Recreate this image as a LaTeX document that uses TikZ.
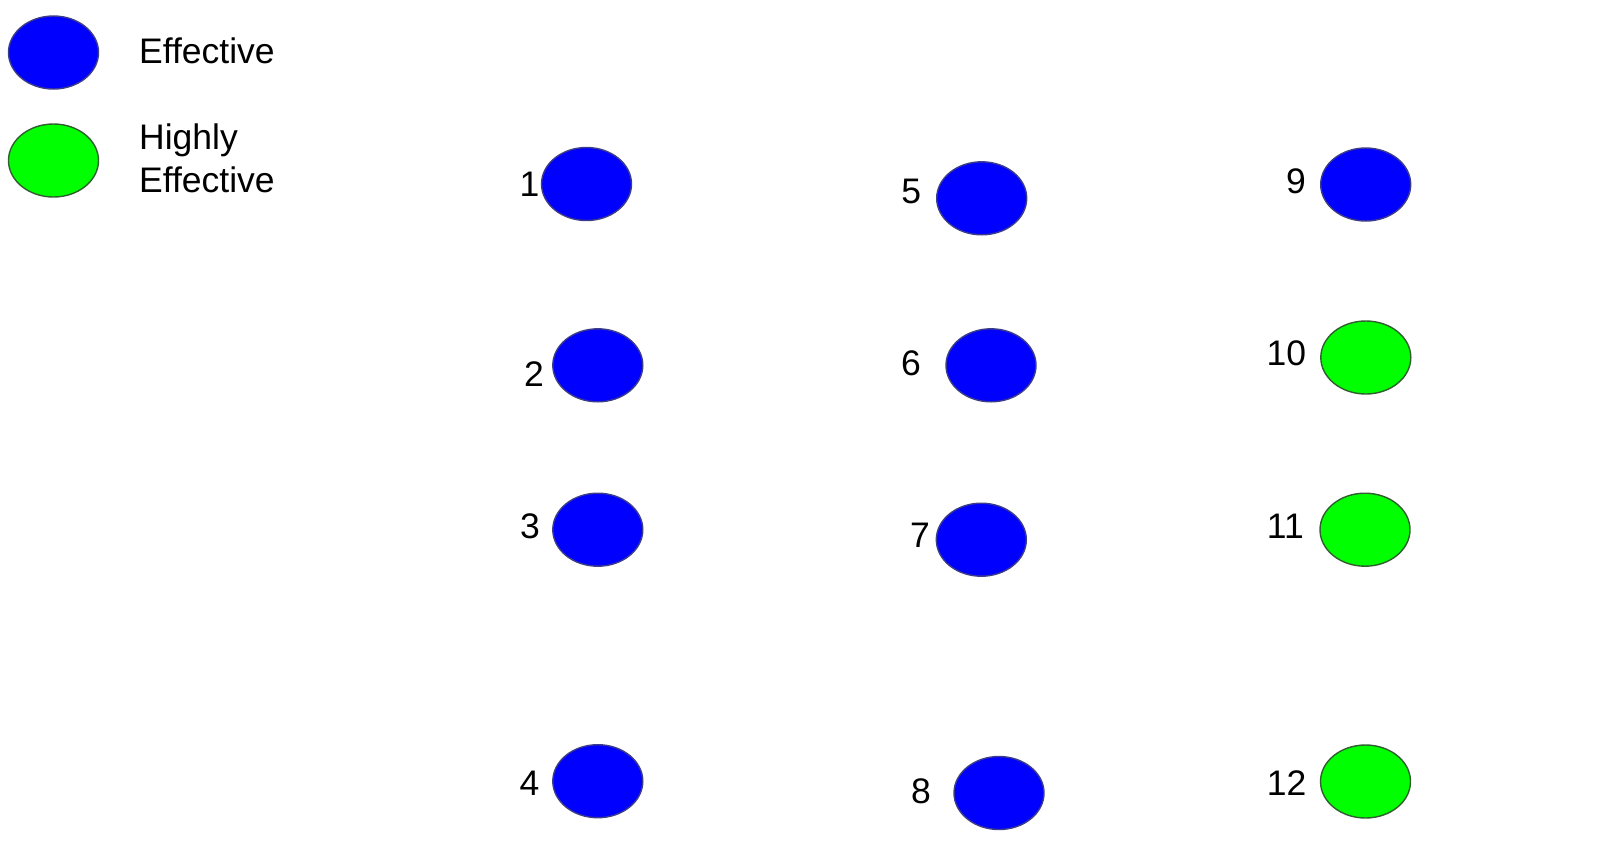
\documentclass[tikz,border=0pt]{standalone}
\usepackage{fontspec}
\setmainfont{Liberation Sans}
\usetikzlibrary{shapes.geometric}
\definecolor{effblue}{HTML}{0000FF}
\definecolor{effgreen}{HTML}{00FF00}
\definecolor{blueedge}{HTML}{3C3C8A}
\definecolor{greenedge}{HTML}{2F5F2F}
\tikzset{
  dot/.style={ellipse, minimum width=90pt, minimum height=73pt, inner sep=0pt, line width=1.4pt},
  eff/.style={dot, fill=effblue, draw=blueedge},
  high/.style={dot, fill=effgreen, draw=greenedge},
  num/.style={inner sep=0pt, font=\fontsize{35.5}{43}\selectfont, text=black},
  legtext/.style={inner sep=0pt, font=\fontsize{35.5}{43}\selectfont, text=black, align=left}
}
\begin{document}
\begin{tikzpicture}[x=1pt, y=-1pt]
\useasboundingbox (0,0) rectangle (1600,863);
% legend
\node[eff] (legEff) at (53.5,52.5) {};
\node[high] (legHigh) at (53.5,160.5) {};
\node[legtext, anchor=base west] (legEffText) at (139,63.3) {Effective};
\node[legtext, anchor=north west] (legHighText) at (139,123.9) {Highly\\Effective};
% column 1
\node[eff] (e1) at (586.5,184) {};
\node[num] (n1) at (529.5,183.8) {1};
\node[eff] (e2) at (597.8,365.3) {};
\node[num] (n2) at (534,374) {2};
\node[eff] (e3) at (597.8,529.7) {};
\node[num] (n3) at (530,526.7) {3};
\node[eff] (e4) at (597.8,781.2) {};
\node[num] (n4) at (529.5,783.7) {4};
% column 2
\node[eff] (e5) at (981.7,198.3) {};
\node[num] (n5) at (911.3,191.3) {5};
\node[eff] (e6) at (991,365.3) {};
\node[num] (n6) at (911,363.7) {6};
\node[eff] (e7) at (981.3,539.7) {};
\node[num] (n7) at (920,535.3) {7};
\node[eff] (e8) at (999,793) {};
\node[num] (n8) at (921,791.7) {8};
% column 3
\node[eff] (e9) at (1365.7,184.5) {};
\node[num] (n9) at (1296,181.3) {9};
\node[high] (e10) at (1365.8,357.5) {};
\node[num] (n10) at (1286.3,353.7) {10};
\node[high] (e11) at (1365,529.7) {};
\node[num] (n11) at (1285.3,526.7) {11};
\node[high] (e12) at (1365.5,781.5) {};
\node[num] (n12) at (1286.5,783.5) {12};
\end{tikzpicture}
\end{document}
